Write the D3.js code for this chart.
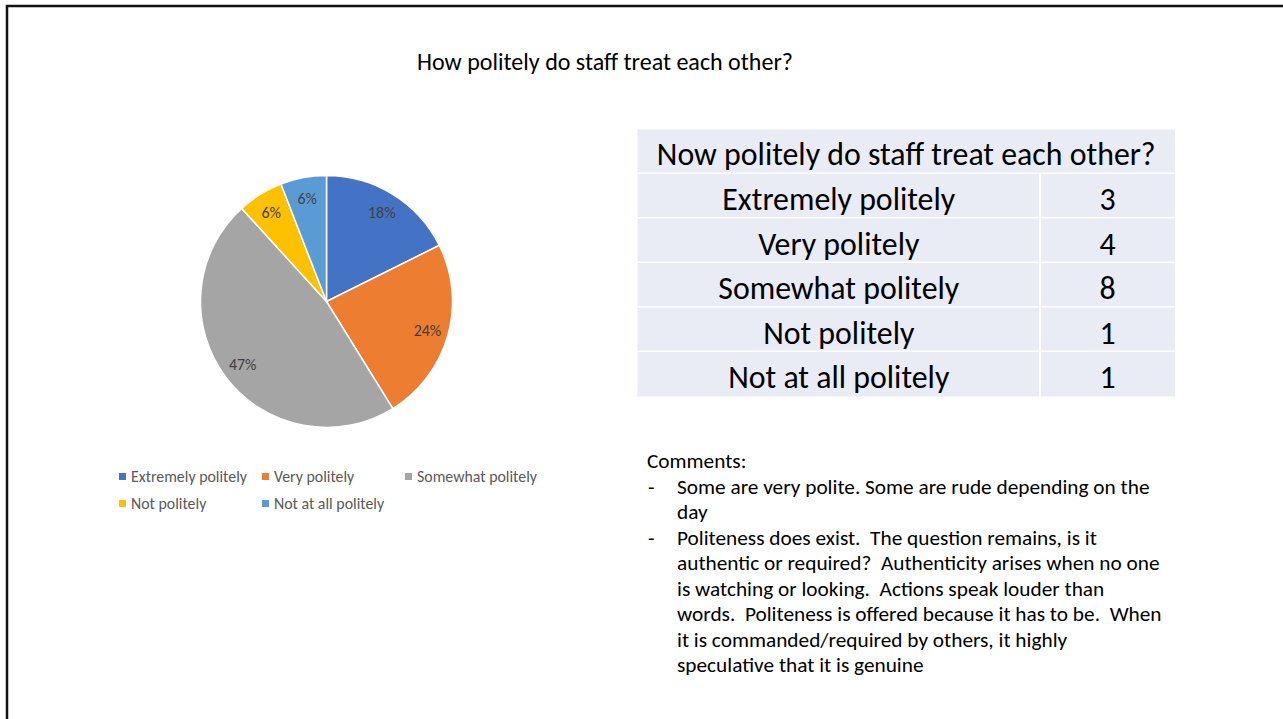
<!DOCTYPE html>
<html><head><meta charset="utf-8">
<script src="https://cdn.jsdelivr.net/npm/d3@7"></script>
<style>html,body{margin:0;padding:0;background:#fff;overflow:hidden}</style>
</head><body>
<svg id="c" width="1283" height="719"></svg>
<script>
const title = "How politely do staff treat each other?";
const tableTitle = "Now politely do staff treat each other?";
const categories = ["Extremely politely","Very politely","Somewhat politely","Not politely","Not at all politely"];
const counts = [3,4,8,1,1];
const percentLabels = ["18%","24%","47%","6%","6%"];
const colors = ["#4472C4","#ED7D31","#A5A5A5","#FFC000","#5B9BD5"];
const commentsHeading = "Comments:";
const comments = [
  ["Some are very polite. Some are rude depending on the","day"],
  ["Politeness does exist.  The question remains, is it","authentic or required?  Authenticity arises when no one","is watching or looking.  Actions speak louder than","words.  Politeness is offered because it has to be.  When","it is commanded/required by others, it highly","speculative that it is genuine"]
];

const FONT = "Carlito, Calibri, Lato, 'Open Sans', sans-serif";
const svg = d3.select("#c");

function fitSize(str, target){
  const t = svg.append("text").attr("font-family",FONT).attr("font-size",100).style("white-space","pre").text(str);
  const w = t.node().getComputedTextLength();
  t.remove();
  return 100*target/w;
}
const fsTitle = fitSize(title, 376);
const fsTable = fitSize(tableTitle, 499);
const fsLegend = fitSize("Extremely politely", 116);
const fsComment = fitSize(comments[0][0], 473);
const fsPie = fitSize("47%", 27.5);

// slide border
svg.append("rect").attr("x",7).attr("y",6).attr("width",1400).attr("height",900)
  .attr("fill","none").attr("stroke","#111").attr("stroke-width",2.5);

// title
svg.append("text").attr("x",605).attr("y",69.5).attr("text-anchor","middle")
  .attr("font-family",FONT).attr("font-size",fsTitle).attr("fill","#000").text(title);

// pie
const cx = 326.5, cy = 301.5, R = 126;
const pie = d3.pie().sort(null).value(d=>d)(counts);
const arc = d3.arc().innerRadius(0).outerRadius(R);
const labelArc = d3.arc().innerRadius(105).outerRadius(105);
const g = svg.append("g").attr("transform",`translate(${cx},${cy})`);
g.selectAll("path").data(pie).join("path").attr("d",arc)
  .attr("fill",(d,i)=>colors[i]).attr("stroke","#fff").attr("stroke-width",1.5);
g.selectAll("text").data(pie).join("text")
  .attr("transform",d=>`translate(${labelArc.centroid(d)})`)
  .attr("text-anchor","middle").attr("dy","0.35em")
  .attr("font-family",FONT).attr("font-size",fsPie).attr("fill","#404040")
  .text((d,i)=>percentLabels[i]);

// legend
const legendPos = [[119,476.5],[262,476.5],[405,476.5],[119,503.5],[262,503.5]];
const lg = svg.append("g");
categories.forEach((c,i)=>{
  const [x,y] = legendPos[i];
  lg.append("rect").attr("x",x).attr("y",y-3.5).attr("width",7).attr("height",7).attr("fill",colors[i]);
  lg.append("text").attr("x",x+12).attr("y",y).attr("dy","0.35em")
    .attr("font-family",FONT).attr("font-size",fsLegend).attr("fill","#595959").text(c);
});

// table
const tx0 = 637.5, tx1 = 1175, tDiv = 1040;
const headerTop = 129.5, headerBottom = 172.5;
const rowY = d3.scaleLinear().domain([0,5]).range([174,396.5]);
const tg = svg.append("g");
tg.append("rect").attr("x",tx0).attr("y",headerTop).attr("width",tx1-tx0).attr("height",headerBottom-headerTop).attr("fill","#E9EBF5");
tg.append("text").attr("x",(tx0+tx1)/2).attr("y",headerTop+35.5).attr("text-anchor","middle")
  .attr("font-family",FONT).attr("font-size",fsTable).attr("fill","#000").text(tableTitle);
categories.forEach((c,i)=>{
  const y0 = rowY(i), y1 = rowY(i+1) - (i<4?1.5:0);
  tg.append("rect").attr("x",tx0).attr("y",y0).attr("width",tDiv-1-tx0).attr("height",y1-y0).attr("fill","#E9EBF5");
  tg.append("rect").attr("x",tDiv+1).attr("y",y0).attr("width",tx1-tDiv-1).attr("height",y1-y0).attr("fill","#E9EBF5");
  tg.append("text").attr("x",(tx0+tDiv)/2).attr("y",y0+36).attr("text-anchor","middle")
    .attr("font-family",FONT).attr("font-size",fsTable).attr("fill","#000").text(c);
  tg.append("text").attr("x",(tDiv+tx1)/2).attr("y",y0+36).attr("text-anchor","middle")
    .attr("font-family",FONT).attr("font-size",fsTable).attr("fill","#000").text(counts[i]);
});

// comments
const cg = svg.append("g").attr("font-family",FONT).attr("font-size",fsComment).attr("fill","#000");
const lh = 25.5;
let by = 468;
cg.append("text").attr("x",647).attr("y",by).text(commentsHeading);
comments.forEach(lines=>{
  lines.forEach((ln,j)=>{
    by += lh;
    if(j===0) cg.append("text").attr("x",648).attr("y",by).text("-");
    cg.append("text").attr("x",677).attr("y",by).style("white-space","pre").text(ln);
  });
});
</script>
</body></html>
